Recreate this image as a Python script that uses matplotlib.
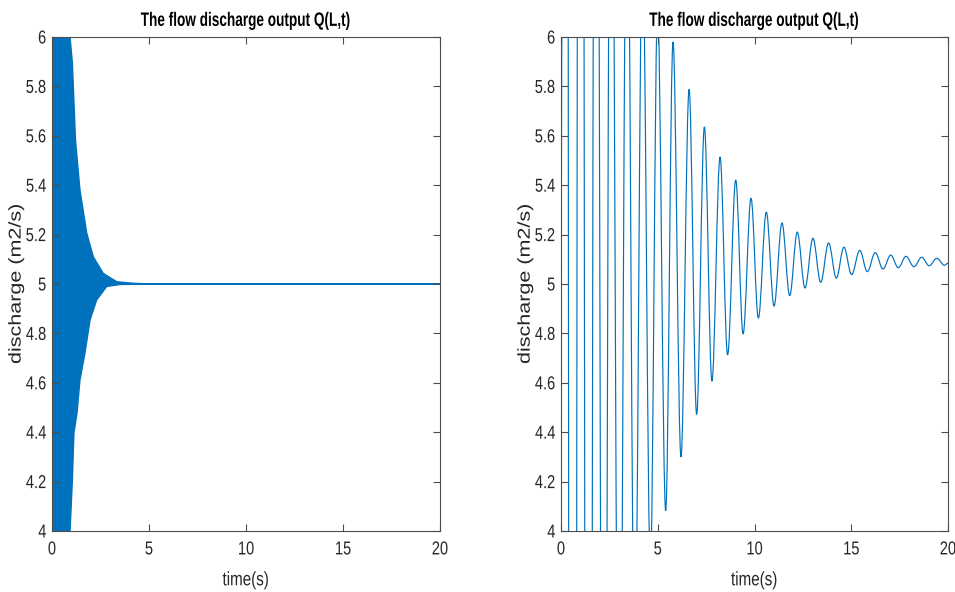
import numpy as np
import matplotlib
matplotlib.use('Agg')
import matplotlib.pyplot as plt
import matplotlib.patheffects as pe
from matplotlib.path import Path
from matplotlib.patches import PathPatch
from matplotlib.transforms import Affine2D
from matplotlib.ticker import FormatStrFormatter

# --- left panel: envelope of the dense oscillation
env_up_t = [0.0, 0.93, 1.05, 1.21, 1.44, 1.79, 2.13, 2.64, 3.34, 4.18, 5.0, 20.0]
env_up_q = [7.0, 6.0, 5.895, 5.583, 5.381, 5.206, 5.11, 5.043, 5.009, 5.003, 5.0, 5.0]
env_lo_t = [0.0, 0.93, 1.05, 1.13, 1.29, 1.44, 1.70, 1.96, 2.30, 2.82, 3.50, 5.0, 20.0]
env_lo_q = [3.0, 4.0, 4.207, 4.397, 4.478, 4.611, 4.721, 4.854, 4.935, 4.99, 4.998, 5.0, 5.0]

# --- right panel: local maxima / minima of Q(L,t)
peak_t = [0.19, 1.01, 1.80, 2.58, 3.41, 4.21, 4.99, 5.79, 6.62, 7.41, 8.22, 9.03, 9.82,
          10.61, 11.42, 12.21, 13.02, 13.83, 14.62, 15.44, 16.24, 17.04, 17.83, 18.64, 19.42]
peak_q = [16.0, 12.0, 9.0, 7.6, 6.9, 6.4, 6.12, 5.98, 5.788, 5.636, 5.514, 5.421, 5.347,
          5.291, 5.247, 5.21, 5.185, 5.166, 5.149, 5.136, 5.127, 5.117, 5.112, 5.108, 5.104]
trough_t = [0.58, 1.41, 2.21, 3.01, 3.81, 4.62, 5.41, 6.20, 7.01, 7.80, 8.61, 9.41, 10.20,
            11.01, 11.82, 12.61, 13.42, 14.23, 15.02, 15.83, 16.64, 17.43, 18.24, 19.03, 19.82]
trough_q = [-6.0, -2.0, 1.2, 2.6, 3.4, 3.85, 4.082, 4.30, 4.472, 4.607, 4.713, 4.798, 4.862,
            4.911, 4.953, 4.984, 5.007, 5.024, 5.038, 5.05, 5.061, 5.066, 5.07, 5.074, 5.076]
start_pt = (0.0, 5.0)
end_pt = (20.0, 5.084)

y_ticks = [4, 4.2, 4.4, 4.6, 4.8, 5, 5.2, 5.4, 5.6, 5.8, 6]
x_ticks = [0, 5, 10, 15, 20]
titulo = 'The flow discharge output Q(L,t)'

cor = '#0072BD'
plt.rcParams['font.family'] = ['Liberation Sans', 'DejaVu Sans']


class Aperta(pe.AbstractPathEffect):
    # comprime o texto (a figura original parece achatada na horizontal)
    def __init__(self, sx=1.0, sy=1.0, ancora='center'):
        super().__init__()
        self.sx, self.sy, self.ancora = sx, sy, ancora

    def draw_path(self, renderer, gc, tpath, affine, rgbFace=None):
        ext = tpath.get_extents()
        cx = {'left': ext.x0, 'center': (ext.x0 + ext.x1) / 2, 'right': ext.x1}[self.ancora]
        a = Affine2D().translate(-cx, 0).scale(self.sx, self.sy).translate(cx, 0) + affine
        renderer.draw_path(gc, tpath, a, rgbFace)


fig = plt.figure(figsize=(9.55, 5.92), dpi=100)
ax1 = fig.add_axes([52/955, 1-531/592, 388/955, 494/592])
ax2 = fig.add_axes([561/955, 1-531/592, 387/955, 494/592])

# left: dense oscillation shown as its filled envelope
t_all = np.union1d(env_up_t, env_lo_t)
up = np.interp(t_all, env_up_t, env_up_q)
lo = np.interp(t_all, env_lo_t, env_lo_q)
ax1.fill_between(t_all, lo, up, color=cor, edgecolor=cor, linewidth=1.0)

# right: smooth curve through the extrema (bezier with flat tangents)
pts = sorted(list(zip(peak_t, peak_q)) + list(zip(trough_t, trough_q)))
pts = [start_pt] + pts + [end_pt]
verts = [pts[0]]
codes = [Path.MOVETO]
k = 0.36
for (t0, q0), (t1, q1) in zip(pts[:-1], pts[1:]):
    dt = t1 - t0
    verts += [(t0 + k*dt, q0), (t1 - k*dt, q1), (t1, q1)]
    codes += [Path.CURVE4]*3
ax2.add_patch(PathPatch(Path(verts, codes), fill=False, edgecolor=cor, linewidth=0.85))

for ax in (ax1, ax2):
    ax.set_xlim(0, 20)
    ax.set_ylim(4, 6)
    ax.set_xticks(x_ticks)
    ax.set_yticks(y_ticks)
    ax.yaxis.set_major_formatter(FormatStrFormatter('%g'))
    ax.tick_params(direction='in', top=True, right=True, length=5, width=0.8,
                   color='#4d4d4d', labelcolor='#262626', labelsize=13.5)
    ax.tick_params(axis='x', pad=7.5)
    ax.tick_params(axis='y', pad=4)
    for s in ax.spines.values():
        s.set_color('#4d4d4d')
        s.set_linewidth(0.8)
    for lb in ax.get_xticklabels():
        lb.set_path_effects([Aperta(sx=0.78)])
    for lb in ax.get_yticklabels():
        lb.set_path_effects([Aperta(sx=0.78, ancora='right')])
    ax.set_title(titulo, fontsize=14, fontweight='bold', pad=8,
                 path_effects=[Aperta(sx=0.70)])
    ax.set_xlabel('time(s)', fontsize=14, labelpad=10, color='#262626',
                  path_effects=[Aperta(sx=0.78)])
    ax.set_ylabel('discharge (m2/s)', fontsize=15.5, color='#262626',
                  path_effects=[Aperta(sy=0.8)])
    ax.yaxis.set_label_coords(-0.068, 0.5)

fig.savefig('out.png', dpi=100)
